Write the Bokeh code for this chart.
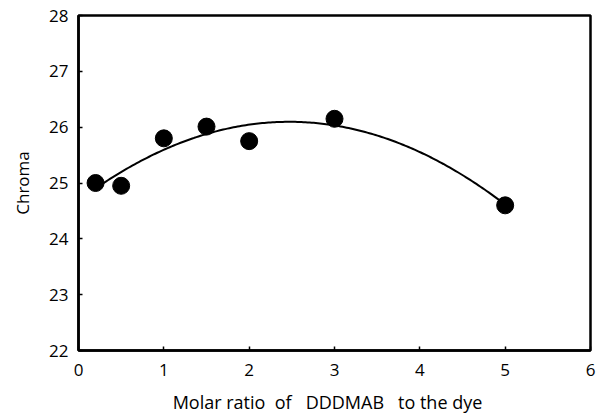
import numpy as np
from bokeh.plotting import figure
from bokeh.models import Range1d, FixedTicker
from bokeh.embed import file_html
from bokeh.resources import INLINE

# Data
molar_ratio = [0.2, 0.5, 1.0, 1.5, 2.0, 3.0, 5.0]
chroma = [25.0, 24.95, 25.8, 26.01, 25.75, 26.15, 24.6]
x_ticks = [0, 1, 2, 3, 4, 5, 6]
y_ticks = [22, 23, 24, 25, 26, 27, 28]

# Second-order polynomial trend line fitted to the points
coef = np.polyfit(molar_ratio, chroma, 2)
fit_x = np.linspace(min(molar_ratio), max(molar_ratio), 200)
fit_y = np.polyval(coef, fit_x)

FONT = "Open Sans"
NB = "\u00a0"

p = figure(width=606, height=416, output_backend="svg", toolbar_location=None,
           x_range=Range1d(0, 6), y_range=Range1d(22, 28),
           min_border_left=78, min_border_right=16, min_border_top=15, min_border_bottom=66)

p.line(fit_x, fit_y, line_color="black", line_width=2)
p.scatter(molar_ratio, chroma, size=17, fill_color="black", line_color="black")

p.xgrid.visible = False
p.ygrid.visible = False
p.outline_line_color = "black"
p.outline_line_width = 2.5
p.outline_line_alpha = 1.0

for ax in (p.xaxis[0], p.yaxis[0]):
    ax.axis_line_width = 2.5
    ax.axis_line_color = "black"
    ax.major_tick_in = 4
    ax.major_tick_out = 0
    ax.major_tick_line_width = 1.5
    ax.minor_tick_line_color = None
    ax.major_label_text_font = FONT
    ax.major_label_text_font_size = "17px"
    ax.major_label_text_color = "black"
    ax.axis_label_text_font = FONT
    ax.axis_label_text_font_style = "normal"
    ax.axis_label_text_color = "black"

p.xaxis[0].ticker = FixedTicker(ticks=x_ticks)
p.yaxis[0].ticker = FixedTicker(ticks=y_ticks)
p.xaxis[0].major_label_standoff = 13
p.yaxis[0].major_label_standoff = 10
p.xaxis[0].axis_label = ("Molar ratio" + NB * 2 + "of" + NB * 3 + "DDDMAB" + NB * 3
                         + "to the dye" + NB * 3)
p.xaxis[0].axis_label_text_font_size = "18px"
p.yaxis[0].axis_label = "Chroma"
p.yaxis[0].axis_label_text_font_size = "17px"
p.xaxis[0].axis_label_standoff = 11
p.yaxis[0].axis_label_standoff = 12

open("out.html", "w").write(file_html(p, INLINE))
